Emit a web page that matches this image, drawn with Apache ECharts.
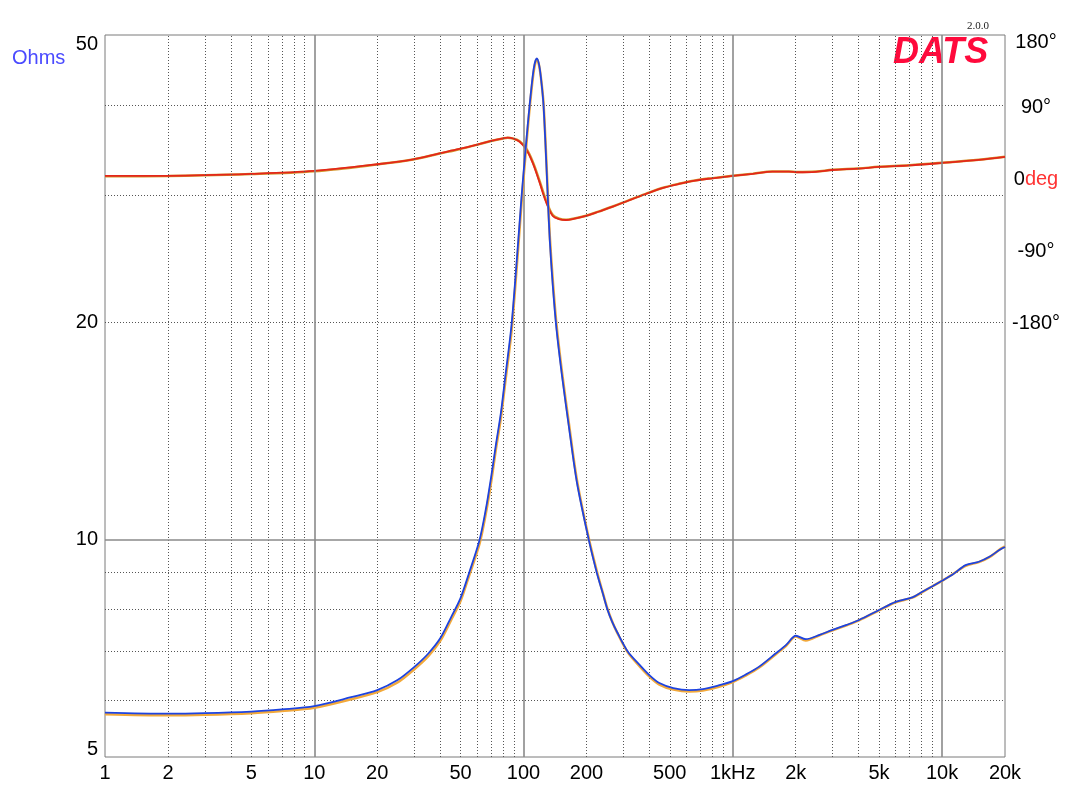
<!DOCTYPE html>
<html><head><meta charset="utf-8">
<script src="https://cdn.jsdelivr.net/npm/echarts@6/dist/echarts.min.js"></script>
<style>html,body{margin:0;padding:0;background:#fff}#c{width:1079px;height:793px}</style>
</head><body><div id="c"></div>
<script>
// ---- data ----
const freqZ = [1,2,3,5,7,10,15,20,25,30,
  35,40,45,50,55,61.7,66,70,74,78,
  82,87.6,93,98,103,107,112,115.8,119,122,
  124.6,127.5,130.5,133.5,138,143.7,153,165,180,205,
  224,240,252,265,280,315,360,400,446,520,
  620,720,850,1000,1150,1337,1607,1800,2003,2234,
  2600,3000,3500,4016,5003,6008,7215,8052,9000,10000,
  11200,12970,15000,16760,19050,20000];
const zBlue = [5.76,5.74,5.75,5.78,5.82,5.88,6.05,6.19,6.39,6.66,
  6.95,7.3,7.8,8.3,9.0,10.0,11.0,12.2,13.6,15.0,
  16.9,19.8,24.5,30.0,35.5,40.0,45.0,46.4,45.3,42.8,
  40.0,35.0,30.0,26.0,22.5,19.6,16.8,14.3,12.0,10.0,
  9.0,8.4,8.0,7.7,7.45,7.0,6.7,6.49,6.33,6.23,
  6.19,6.21,6.28,6.37,6.5,6.67,6.96,7.15,7.36,7.28,
  7.38,7.50,7.62,7.74,7.99,8.20,8.32,8.47,8.62,8.77,
  8.94,9.22,9.32,9.46,9.70,9.77];
const zOrange = [5.73,5.71,5.72,5.75,5.79,5.85,6.01,6.15,6.34,6.61,
  6.89,7.24,7.73,8.22,8.92,9.88,10.85,12.0,13.4,14.75,
  16.6,19.4,24.0,29.4,35.0,39.6,44.6,46.3,45.2,42.9,
  40.3,35.4,30.4,26.4,22.9,19.9,17.0,14.45,12.1,10.05,
  9.05,8.42,8.02,7.71,7.44,6.98,6.67,6.46,6.3,6.2,
  6.16,6.18,6.25,6.35,6.48,6.65,6.94,7.13,7.34,7.25,
  7.37,7.49,7.61,7.73,7.98,8.19,8.31,8.46,8.62,8.77,
  8.95,9.2,9.31,9.45,9.71,9.79];
const freqP = [1,2,5,10,20.5,29.7,39.7,49.3,61.7,70,
  79.9,84,89.3,95.8,103,110.9,119,128,138,148,
  159.7,175,199.3,230,267,320,384,460,553,660,
  800,1000,1250,1547,1856,2035,2500,3000,4000,5000,
  7000,10000,15000,20000];
const phaseRed = [4.3,4.5,6.9,10.5,19.2,25.1,32.5,37.9,44.2,48,
  51.2,52,51,47,37.5,20,-2.8,-27.8,-45.6,-49.5,
  -50.6,-49,-45.6,-40,-34,-26,-18.2,-11,-5.7,-1.5,
  1.4,4.3,7,9.6,9.6,8.9,9.5,11.7,13.5,15.5,
  17.5,20.5,24.3,28];
const phaseOrange = [4.0,4.2,6.6,10.2,19,24.8,32.2,37.6,44,47.8,
  51,51.8,50.8,47.5,38.5,21.5,-1,-26,-44.5,-49,
  -50.3,-48.8,-45.4,-39.8,-33.8,-25.8,-18,-10.8,-5.5,-1.3,
  1.6,4.5,7.2,9.8,9.8,9.1,9.7,11.9,13.7,15.7,
  17.7,20.7,24.5,28.2];

const xTickValues = [1,2,5,10,20,50,100,200,500,1000,2000,5000,10000,20000];
const xTickLabels = ['1','2','5','10','20','50','100','200','500','1kHz','2k','5k','10k','20k'];
const yTickValues = [5,10,20,50];
const phaseTickValues = [-180,-90,0,90,180];
const xMajorGrid = [10,100,1000,10000];
const xMinorGrid = [2,3,4,5,6,7,8,9,20,30,40,50,60,70,80,90,200,300,400,500,600,700,800,900,2000,3000,4000,5000,6000,7000,8000,9000];
const yMajorGrid = [10];
const yMinorGrid = [6,7,8,9,20,30,40];

// ---- build ----
const pairs = (xs, ys) => xs.map((x, i) => [x, ys[i]]);
const FONT = 'Liberation Sans, Arial, sans-serif';
const minorStyle = {color: '#555', width: 1, type: [1, 2]};
const majorStyle = {color: '#8a8a8a', width: 1.6, type: 'solid'};

const gridLines = [].concat(
  xMinorGrid.map(v => ({xAxis: v, lineStyle: minorStyle})),
  yMinorGrid.map(v => ({yAxis: v, lineStyle: minorStyle})),
  xMajorGrid.map(v => ({xAxis: v, lineStyle: majorStyle})),
  yMajorGrid.map(v => ({yAxis: v, lineStyle: majorStyle}))
);

const chart = echarts.init(document.getElementById('c'), null, {renderer: 'canvas'});
chart.setOption({
  animation: false,
  backgroundColor: '#fff',
  grid: {left: 105, right: 74, top: 35, bottom: 36, show: true, borderColor: '#7a7a7a', borderWidth: 1, backgroundColor: 'transparent'},
  xAxis: {
    type: 'log', logBase: 10, min: 1, max: 20000,
    axisLine: {show: false}, axisTick: {show: false}, splitLine: {show: false}, minorSplitLine: {show: false},
    axisLabel: {
      customValues: xTickValues, margin: 6, color: '#000', fontFamily: FONT, fontSize: 20,
      formatter: v => { let i = xTickValues.findIndex(t => Math.abs(t - v) / t < 1e-6); return i >= 0 ? xTickLabels[i] : ''; }
    }
  },
  yAxis: [{
    type: 'log', logBase: 10, min: 5, max: 50,
    axisLine: {show: false}, axisTick: {show: false}, splitLine: {show: false},
    axisLabel: {
      customValues: yTickValues, margin: 7, color: '#000', fontFamily: FONT, fontSize: 20,
      formatter: v => {
        const r = Math.round(v);
        if (r === 50) return '{t|50}';
        if (r === 5) return '{b|5}';
        return String(r);
      },
      rich: {
        t: {fontFamily: FONT, fontSize: 20, color: '#000', padding: [19, 0, 0, 0]},
        b: {fontFamily: FONT, fontSize: 20, color: '#000', padding: [0, 0, 16, 0]}
      }
    }
  }, {
    type: 'value', min: -720, max: 180, position: 'right',
    axisLine: {show: false}, axisTick: {show: false}, splitLine: {show: false},
    axisLabel: {
      customValues: phaseTickValues, margin: 31, align: 'center', color: '#000', fontFamily: FONT, fontSize: 20,
      formatter: v => {
        if (v === 0) return '{z|0}{d|deg}';
        if (v === 180) return '{t|180°}';
        return v + '°';
      },
      rich: {
        z: {fontFamily: FONT, fontSize: 20, color: '#000'},
        d: {fontFamily: FONT, fontSize: 20, color: '#ff3333'},
        t: {fontFamily: FONT, fontSize: 20, color: '#000', padding: [14, 0, 0, 0]}
      }
    }
  }],
  graphic: [
    {type: 'text', left: 12, top: 48, style: {text: 'Ohms', fontFamily: FONT, fontSize: 20, fill: '#4a4aff'}},
    {type: 'text', left: 893, top: 35, style: {text: 'DATS', fontFamily: FONT, fontSize: 36, fontWeight: 'bold', fontStyle: 'italic', fill: '#ff0a3c'}},
    {type: 'text', left: 967, top: 21, style: {text: '2.0.0', fontFamily: 'Liberation Serif, Times New Roman, serif', fontSize: 11, fill: '#222'}}
  ],
  series: [
    {type: 'line', data: [], silent: true, z: 1,
     markLine: {silent: true, symbol: ['none', 'none'], label: {show: false}, animation: false, data: gridLines}},
    {name: 'phase2', type: 'line', yAxisIndex: 1, data: pairs(freqP, phaseOrange), showSymbol: false, smooth: 0.35, z: 3,
     lineStyle: {color: '#d39a30', width: 2.5}},
    {name: 'phase', type: 'line', yAxisIndex: 1, data: pairs(freqP, phaseRed), showSymbol: false, smooth: 0.35, z: 4,
     lineStyle: {color: '#e3261a', width: 1.8}},
    {name: 'imp2', type: 'line', data: pairs(freqZ, zOrange), showSymbol: false, smooth: 0.3, z: 5,
     lineStyle: {color: '#f2a93b', width: 2.5}},
    {name: 'imp', type: 'line', data: pairs(freqZ, zBlue), showSymbol: false, smooth: 0.3, z: 6,
     lineStyle: {color: '#1d43e0', width: 1.8}}
  ]
});
</script></body></html>
